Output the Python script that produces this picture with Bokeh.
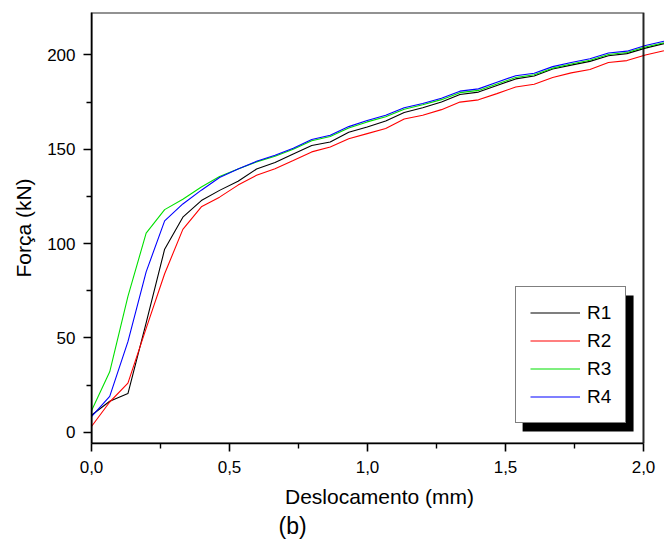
from bokeh.plotting import figure
from bokeh.models import (Range1d, FixedTicker, Legend, LegendItem, BoxAnnotation,
                          Title, CustomJSTickFormatter)
from bokeh.embed import file_html
from bokeh.resources import INLINE

# Deslocamento (mm)
x = [0.000, 0.066, 0.132, 0.198, 0.265, 0.331, 0.398, 0.464, 0.531, 0.598,
     0.665, 0.731, 0.798, 0.865, 0.932, 0.999, 1.066, 1.133, 1.200, 1.268,
     1.335, 1.402, 1.469, 1.537, 1.604, 1.671, 1.738, 1.806, 1.873, 1.940,
     2.007, 2.074]

# Força (kN)
r1 = [9.0, 16.4, 20.5, 58.0, 97.0, 114.0, 122.8, 128.2, 133.0, 139.5,
      143.0, 147.5, 152.0, 153.8, 159.0, 161.8, 165.0, 169.5, 172.0, 175.0,
      179.0, 180.3, 183.8, 187.3, 188.8, 192.5, 194.6, 196.6, 199.6, 200.7,
      203.6, 206.0]
r2 = [3.0, 16.0, 26.0, 55.0, 84.0, 107.5, 119.5, 124.6, 131.0, 136.2,
      139.7, 144.0, 148.6, 151.2, 155.6, 158.3, 161.0, 166.0, 168.0, 171.0,
      175.0, 176.2, 179.5, 183.0, 184.5, 188.0, 190.5, 192.3, 196.0, 197.0,
      200.0, 202.2]
r3 = [11.4, 32.0, 72.0, 105.5, 118.0, 123.5, 130.0, 135.5, 139.5, 143.3,
      146.3, 150.0, 154.5, 156.8, 161.3, 164.5, 167.2, 171.2, 173.6, 176.3,
      180.0, 181.2, 184.6, 188.0, 189.5, 193.0, 195.2, 197.2, 200.2, 201.3,
      204.2, 206.5]
r4 = [8.2, 19.0, 48.0, 85.0, 112.0, 121.0, 128.3, 135.0, 139.5, 143.6,
      146.8, 150.5, 155.2, 157.4, 162.0, 165.2, 168.0, 172.0, 174.3, 177.0,
      180.8, 182.0, 185.5, 189.0, 190.3, 193.8, 196.0, 198.0, 201.0, 202.0,
      205.0, 207.3]

series_names = ["R1", "R2", "R3", "R4"]
series_colors = ["#000000", "#ff0000", "#00e000", "#0000ff"]

x_ticks = [0.0, 0.5, 1.0, 1.5, 2.0]
x_minor = [0.25, 0.75, 1.25, 1.75]
y_ticks = [0, 50, 100, 150, 200]
y_minor = [25, 75, 125, 175]

FONT = "Liberation Sans"

p = figure(width=667, height=539, output_backend="svg", toolbar_location=None,
           x_range=Range1d(0, 2.087), y_range=Range1d(-6, 222.5),
           min_border_left=91, min_border_top=12, min_border_right=0,
           min_border_bottom=96)
p.grid.visible = False
p.outline_line_color = None
p.background_fill_color = "white"
p.border_fill_color = "white"

renderers = []
for ys, c in zip([r1, r2, r3, r4], series_colors):
    renderers.append(p.line(x, ys, line_color=c, line_width=1.1))

for ax in (p.xaxis[0], p.yaxis[0]):
    ax.axis_line_color = "black"
    ax.axis_line_width = 1.6
    ax.major_tick_line_color = "black"
    ax.major_tick_line_width = 1.6
    ax.minor_tick_line_color = "black"
    ax.minor_tick_line_width = 1.4
    ax.major_tick_in = 0
    ax.major_tick_out = 8
    ax.minor_tick_in = 0
    ax.minor_tick_out = 5
    ax.major_label_text_font = FONT
    ax.major_label_text_font_size = "17px"
    ax.major_label_text_color = "black"
    ax.axis_label_text_font = FONT
    ax.axis_label_text_font_size = "21px"
    ax.axis_label_text_font_style = "normal"
    ax.axis_label_text_color = "black"

p.xaxis.ticker = FixedTicker(ticks=x_ticks, minor_ticks=x_minor)
p.xaxis.formatter = CustomJSTickFormatter(code="return tick.toFixed(1).replace('.', ',');")
p.xaxis.bounds = (0, 2.0)
p.xaxis.axis_label = "Deslocamento (mm)"
p.xaxis.major_label_standoff = 9
p.xaxis.axis_label_standoff = 9

p.yaxis.ticker = FixedTicker(ticks=y_ticks, minor_ticks=y_minor)
p.yaxis.axis_label = "Força (kN)"
p.yaxis.major_label_standoff = 8
p.yaxis.axis_label_standoff = 9

# frame (top and right side at x = 2.0)
frame = BoxAnnotation(left=0, right=2.0, fill_alpha=0, line_color="black",
                      line_width=2, line_alpha=0.85)
p.add_layout(frame)

# legend shadow
shadow = BoxAnnotation(left=1.562, right=1.964, bottom=0.4, top=72.5,
                       fill_color="black", fill_alpha=1, line_color=None)
p.add_layout(shadow)

legend = Legend(items=[LegendItem(label=n, renderers=[r]) for n, r in zip(series_names, renderers)],
                location=(424, 20), orientation="vertical")
legend.border_line_color = "black"
legend.border_line_width = 1.2
legend.background_fill_color = "white"
legend.background_fill_alpha = 1
legend.padding = 14
legend.spacing = 5
legend.margin = 0
legend.glyph_width = 50
legend.glyph_height = 23
legend.label_height = 23
legend.label_standoff = 7
legend.label_text_font = FONT
legend.label_text_font_size = "19px"
legend.label_text_color = "black"
p.add_layout(legend, "center")

p.add_layout(Title(text="(b)", align="left", offset=187, text_font=FONT,
                   text_font_size="23px", text_font_style="normal",
                   text_color="black", standoff=0), "below")

open("out.html", "w").write(file_html(p, INLINE))
